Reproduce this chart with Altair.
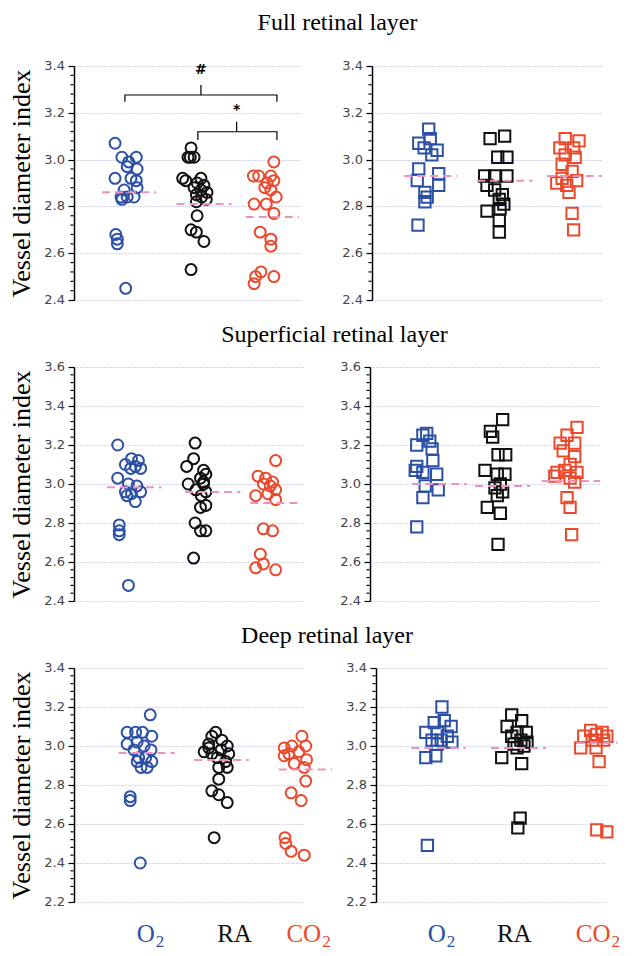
import altair as alt
import pandas as pd

GROUPS = ["O2", "RA", "CO2"]
COLORS = ["#2b50a6", "#111111", "#ea4a2c"]
PINK = "#ec93bd"
GRID = "#a8a8dc"

# ---------------- Full retinal layer ----------------
full_c_o2_y = [3.07, 3.01, 3.01, 2.99, 2.97, 2.96, 2.92, 2.92, 2.91, 2.87, 2.88, 2.84, 2.84, 2.84, 2.83, 2.68, 2.66, 2.64, 2.45]
full_c_o2_x = [0.58, 0.67, 0.86, 0.76, 0.74, 0.87, 0.58, 0.79, 0.86, 0.70, 0.87, 0.66, 0.74, 0.83, 0.67, 0.59, 0.61, 0.61, 0.72]
full_c_ra_y = [3.05, 3.01, 3.01, 3.01, 2.92, 2.92, 2.91, 2.90, 2.89, 2.88, 2.87, 2.86, 2.85, 2.84, 2.82, 2.83, 2.76, 2.70, 2.69, 2.65, 2.53]
full_c_ra_x = [1.58, 1.57, 1.62, 1.54, 1.47, 1.71, 1.51, 1.66, 1.75, 1.62, 1.71, 1.79, 1.65, 1.72, 1.65, 1.78, 1.66, 1.58, 1.65, 1.75, 1.58]
full_c_co2_y = [2.99, 2.93, 2.93, 2.93, 2.90, 2.91, 2.88, 2.87, 2.84, 2.81, 2.81, 2.77, 2.69, 2.66, 2.63, 2.52, 2.50, 2.50, 2.47]
full_c_co2_x = [2.67, 2.40, 2.47, 2.63, 2.58, 2.67, 2.55, 2.63, 2.70, 2.41, 2.57, 2.67, 2.49, 2.63, 2.63, 2.50, 2.43, 2.67, 2.41]
full_c_means = [2.86, 2.81, 2.755]
full_c_from = [0.41, 1.39, 2.30]
full_c_to = [1.12, 2.11, 3.00]

full_s_o2_y = [3.13, 3.07, 3.09, 3.05, 3.04, 3.02, 2.96, 2.94, 2.91, 2.89, 2.86, 2.84, 2.82, 2.72]
full_s_o2_x = [0.74, 0.61, 0.76, 0.68, 0.85, 0.78, 0.61, 0.87, 0.59, 0.87, 0.69, 0.72, 0.69, 0.60]
full_s_ra_y = [3.09, 3.10, 3.01, 3.01, 2.93, 2.93, 2.93, 2.89, 2.87, 2.85, 2.83, 2.81, 2.78, 2.79, 2.74, 2.69]
full_s_ra_x = [1.54, 1.73, 1.64, 1.76, 1.47, 1.60, 1.76, 1.50, 1.60, 1.70, 1.66, 1.72, 1.50, 1.67, 1.66, 1.66]
full_s_co2_y = [3.09, 3.08, 3.05, 3.05, 3.02, 3.01, 2.98, 2.95, 2.92, 2.91, 2.90, 2.89, 2.86, 2.77, 2.70]
full_s_co2_x = [2.52, 2.70, 2.45, 2.63, 2.52, 2.65, 2.48, 2.61, 2.48, 2.67, 2.41, 2.54, 2.57, 2.61, 2.63]
full_s_means = [2.93, 2.91, 2.93]
full_s_from = [0.42, 1.37, 2.28]
full_s_to = [1.11, 2.09, 3.00]

# ---------------- Superficial retinal layer ----------------
sup_c_o2_y = [3.20, 3.10, 3.13, 3.12, 3.09, 3.08, 3.08, 3.03, 3.00, 2.99, 2.96, 2.95, 2.96, 2.94, 2.91, 2.79, 2.76, 2.74, 2.48]
sup_c_o2_x = [0.56, 0.66, 0.74, 0.83, 0.79, 0.86, 0.73, 0.56, 0.70, 0.81, 0.66, 0.74, 0.86, 0.68, 0.79, 0.58, 0.58, 0.58, 0.70]
sup_c_ra_y = [3.21, 3.13, 3.09, 3.07, 3.05, 3.03, 3.00, 3.00, 2.97, 2.96, 2.94, 2.89, 2.88, 2.80, 2.76, 2.76, 2.62, 3.01]
sup_c_ra_x = [1.57, 1.55, 1.46, 1.68, 1.71, 1.64, 1.48, 1.68, 1.58, 1.71, 1.65, 1.71, 1.64, 1.57, 1.64, 1.71, 1.55, 1.68]
sup_c_co2_y = [3.12, 3.04, 3.03, 3.01, 3.00, 2.99, 2.97, 2.95, 2.94, 2.92, 2.77, 2.76, 2.64, 2.59, 2.57, 2.56]
sup_c_co2_x = [2.62, 2.39, 2.49, 2.58, 2.46, 2.55, 2.62, 2.52, 2.36, 2.62, 2.46, 2.58, 2.42, 2.46, 2.36, 2.62]
sup_c_means = [2.983, 2.959, 2.903]
sup_c_from = [0.42, 1.44, 2.29]
sup_c_to = [1.13, 2.16, 2.97]

sup_s_o2_y = [3.26, 3.25, 3.22, 3.20, 3.18, 3.12, 3.09, 3.07, 3.06, 3.05, 2.99, 2.97, 2.93, 2.78]
sup_s_o2_x = [0.74, 0.69, 0.78, 0.61, 0.81, 0.82, 0.61, 0.59, 0.69, 0.87, 0.72, 0.89, 0.69, 0.61]
sup_s_ra_y = [3.33, 3.27, 3.24, 3.15, 3.15, 3.07, 3.05, 3.05, 3.00, 2.98, 2.96, 2.94, 2.88, 2.85, 2.69]
sup_s_ra_x = [1.73, 1.57, 1.60, 1.67, 1.77, 1.50, 1.66, 1.76, 1.70, 1.63, 1.73, 1.66, 1.53, 1.70, 1.67]
sup_s_co2_y = [3.29, 3.25, 3.21, 3.21, 3.17, 3.14, 3.10, 3.06, 3.07, 3.06, 3.04, 3.03, 3.01, 2.93, 2.88, 2.74]
sup_s_co2_x = [2.70, 2.57, 2.48, 2.67, 2.52, 2.67, 2.61, 2.44, 2.54, 2.70, 2.41, 2.61, 2.67, 2.57, 2.61, 2.63]
sup_s_means = [3.00, 2.99, 3.015]
sup_s_from = [0.55, 1.37, 2.24]
sup_s_to = [1.26, 2.09, 3.00]

# ---------------- Deep retinal layer ----------------
deep_c_o2_y = [3.16, 3.07, 3.07, 3.07, 3.05, 3.01, 3.02, 3.00, 2.98, 2.98, 2.94, 2.94, 2.92, 2.92, 2.89, 2.89, 2.74, 2.72, 2.40]
deep_c_o2_x = [0.94, 0.64, 0.75, 0.84, 0.96, 0.64, 0.77, 0.86, 0.73, 0.95, 0.79, 0.88, 0.96, 0.77, 0.90, 0.82, 0.68, 0.68, 0.81]
deep_c_ra_y = [3.07, 3.05, 3.03, 3.01, 3.00, 2.97, 2.96, 2.98, 2.96, 2.99, 2.94, 2.92, 2.89, 2.89, 2.83, 2.77, 2.75, 2.71, 2.53]
deep_c_ra_x = [1.79, 1.74, 1.87, 1.70, 1.94, 1.64, 1.74, 1.86, 1.96, 1.70, 1.81, 1.92, 1.94, 1.83, 1.83, 1.74, 1.83, 1.94, 1.77]
deep_c_co2_y = [3.05, 2.99, 3.00, 3.00, 2.96, 2.97, 2.93, 2.91, 2.95, 2.89, 2.82, 2.76, 2.72, 2.53, 2.50, 2.46, 2.44]
deep_c_co2_x = [2.91, 2.68, 2.78, 2.96, 2.74, 2.87, 2.97, 2.81, 2.68, 2.94, 2.96, 2.77, 2.90, 2.69, 2.70, 2.77, 2.94]
deep_c_means = [2.964, 2.928, 2.88]
deep_c_from = [0.53, 1.51, 2.61]
deep_c_to = [1.26, 2.22, 3.30]

deep_s_o2_y = [3.20, 3.12, 3.13, 3.10, 3.07, 3.07, 3.05, 3.03, 3.03, 3.02, 3.01, 2.95, 2.94, 2.49]
deep_s_o2_x = [0.86, 0.76, 0.89, 0.98, 0.65, 0.80, 0.93, 0.73, 0.85, 0.99, 0.80, 0.78, 0.65, 0.67]
deep_s_ra_y = [3.16, 3.10, 3.13, 3.07, 3.07, 3.05, 3.03, 3.02, 3.01, 3.00, 2.99, 2.94, 2.91, 2.63, 2.58]
deep_s_ra_x = [1.77, 1.71, 1.90, 1.84, 1.96, 1.77, 1.89, 1.97, 1.80, 1.93, 1.84, 1.64, 1.90, 1.88, 1.85]
deep_s_co2_y = [3.08, 3.07, 3.06, 3.05, 3.05, 2.99, 2.99, 3.03, 3.03, 2.92, 2.57, 2.56]
deep_s_co2_x = [2.80, 2.95, 2.88, 2.71, 3.01, 2.67, 2.87, 2.82, 2.97, 2.91, 2.88, 3.01]
deep_s_means = [2.99, 2.99, 3.017]
deep_s_from = [0.46, 1.50, 2.62]
deep_s_to = [1.17, 2.22, 3.15]

# group labels under the bottom panels (x = where main text ends and subscript begins)
label_main = ["O", "RA", "CO"]
label_sub = ["2", "", "2"]
label_x_left = [1.00, 2.26, 3.16]
label_x_right = [0.91, 2.03, 3.06]

# significance brackets (full layer, circles)
br_text = ["#", "*"]
br_left = [0.71, 1.67]
br_right = [2.71, 2.71]
br_mid = [1.71, 2.18]
br_end = [3.247, 3.084]
br_top = [3.276, 3.119]
br_peak = [3.319, 3.162]
br_text_y = [3.383, 3.212]

PANEL_H = 234


def panel(series, means, xfrom, xto, ydom, shape, width, show_title, xstart=0.0,
          labels_x=None, brackets=False):
    rows = []
    for g, xs, ys in series:
        for x, y in zip(xs, ys):
            rows.append({"g": g, "x": x, "y": y})
    df = pd.DataFrame(rows)
    color = alt.Color("g:N", scale=alt.Scale(domain=GROUPS, range=COLORS), legend=None)
    xsc = alt.Scale(domain=[xstart, xstart + 3], nice=False, zero=False)
    ysc = alt.Scale(domain=ydom, nice=False, zero=False)
    n_major = int(round((ydom[1] - ydom[0]) / 0.2))
    majors = [round(ydom[0] + 0.2 * i, 1) for i in range(n_major + 1)]
    minors = [round(m + 0.04 * k, 2) for m in majors[:-1] for k in range(1, 5)]
    ax = dict(
        values=majors, labels=False, minExtent=30,
        tickSize=6, tickColor="black", tickWidth=1.2,
        grid=True, gridColor=GRID, gridDash=[1, 2], gridWidth=1,
        domainColor="black", domainWidth=1.5,
    )
    if show_title:
        ax.update(title="Vessel diameter index", titleFont="Liberation Serif", titleFontSize=26,
                  titleFontWeight="normal", titleColor="black", titlePadding=10)
    else:
        ax.update(title=None)
    yaxis = alt.Axis(**ax)

    def Y(field):
        return alt.Y(field, scale=ysc, axis=yaxis)

    pts = alt.Chart(df).mark_point(shape=shape, filled=False, size=120 if shape == "circle" else 128,
                                   strokeWidth=2, opacity=1).encode(
        x=alt.X("x:Q", scale=xsc, axis=None), y=Y("y:Q"), color=color)
    mdf = pd.DataFrame({"g": GROUPS, "m": means, "x1": xfrom, "x2": xto})
    mlines = alt.Chart(mdf).mark_rule(color=PINK, strokeDash=[8, 5], strokeWidth=2).encode(
        x=alt.X("x1:Q", scale=xsc, axis=None), x2="x2:Q", y=Y("m:Q"))
    minor = alt.Chart(pd.DataFrame({"v": minors})).mark_rule(color="black", strokeWidth=1.2).encode(
        x=alt.value(-3.5), x2=alt.value(-0.5), y=Y("v:Q"))
    ticklab = alt.Chart(pd.DataFrame({"v": majors})).mark_text(
        font="DejaVu Sans", fontSize=13, color="#444444", align="right", baseline="middle").encode(
        x=alt.value(-9), y=Y("v:Q"), text=alt.Text("v:Q", format=".1f"))
    layers = [pts, mlines, minor, ticklab]

    if brackets:
        brows = []
        for i in range(len(br_text)):
            pts_main = [(br_left[i], br_end[i]), (br_left[i], br_top[i]),
                        (br_right[i], br_top[i]), (br_right[i], br_end[i])]
            for k, (bx, by) in enumerate(pts_main):
                brows.append({"seg": f"{i}a", "o": k, "x": bx, "y": by})
            for k, (bx, by) in enumerate([(br_mid[i], br_top[i]), (br_mid[i], br_peak[i])]):
                brows.append({"seg": f"{i}b", "o": k, "x": bx, "y": by})
        bdf = pd.DataFrame(brows)
        blines = alt.Chart(bdf).mark_line(color="black", strokeWidth=1.2).encode(
            x=alt.X("x:Q", scale=xsc, axis=None), y=Y("y:Q"),
            detail="seg:N", order="o:Q")
        tdf = pd.DataFrame({"t": br_text, "x": br_mid, "y": br_text_y})
        btext = alt.Chart(tdf).mark_text(font="DejaVu Sans", fontSize=14, fontWeight="bold",
                                         baseline="middle", color="black").encode(
            x=alt.X("x:Q", scale=xsc, axis=None), y=Y("y:Q"), text="t:N")
        layers += [blines, btext]

    if labels_x is not None:
        ldf = pd.DataFrame({"g": GROUPS, "t": label_main, "s": label_sub, "x": labels_x})
        main = alt.Chart(ldf).mark_text(font="Liberation Serif", fontSize=25, baseline="alphabetic",
                                        align="right").encode(
            x=alt.X("x:Q", scale=xsc, axis=None), y=alt.value(PANEL_H + 40), text="t:N", color=color)
        sub = alt.Chart(ldf).mark_text(font="Liberation Serif", fontSize=17, baseline="alphabetic",
                                       align="left", dx=1).encode(
            x=alt.X("x:Q", scale=xsc, axis=None), y=alt.value(PANEL_H + 45), text="s:N", color=color)
        layers += [main, sub]

    return alt.layer(*layers).properties(width=width, height=PANEL_H)


def row(title, dx, offset, spacing, left, right):
    return alt.hconcat(left, right, spacing=spacing).properties(
        title=alt.TitleParams(text=title, font="Liberation Serif", fontSize=24, fontWeight="normal",
                              color="black", anchor="middle", dx=dx, offset=offset))


r1 = row("Full retinal layer", 32, 25, 40,
         panel([("O2", full_c_o2_x, full_c_o2_y), ("RA", full_c_ra_x, full_c_ra_y),
                ("CO2", full_c_co2_x, full_c_co2_y)],
               full_c_means, full_c_from, full_c_to, [2.4, 3.4], "circle", 228, True,
               xstart=0.04, brackets=True),
         panel([("O2", full_s_o2_x, full_s_o2_y), ("RA", full_s_ra_x, full_s_ra_y),
                ("CO2", full_s_co2_x, full_s_co2_y)],
               full_s_means, full_s_from, full_s_to, [2.4, 3.4], "square", 230, False))
r2 = row("Superficial retinal layer", 30, 14, 36,
         panel([("O2", sup_c_o2_x, sup_c_o2_y), ("RA", sup_c_ra_x, sup_c_ra_y),
                ("CO2", sup_c_co2_x, sup_c_co2_y)],
               sup_c_means, sup_c_from, sup_c_to, [2.4, 3.6], "circle", 230, True, xstart=-0.01),
         panel([("O2", sup_s_o2_x, sup_s_o2_y), ("RA", sup_s_ra_x, sup_s_ra_y),
                ("CO2", sup_s_co2_x, sup_s_co2_y)],
               sup_s_means, sup_s_from, sup_s_to, [2.4, 3.6], "square", 230, False))
r3 = row("Deep retinal layer", 13, 14, 13,
         panel([("O2", deep_c_o2_x, deep_c_o2_y), ("RA", deep_c_ra_x, deep_c_ra_y),
                ("CO2", deep_c_co2_x, deep_c_co2_y)],
               deep_c_means, deep_c_from, deep_c_to, [2.2, 3.4], "circle", 231, True,
               xstart=-0.05, labels_x=label_x_left),
         panel([("O2", deep_s_o2_x, deep_s_o2_y), ("RA", deep_s_ra_x, deep_s_ra_y),
                ("CO2", deep_s_co2_x, deep_s_co2_y)],
               deep_s_means, deep_s_from, deep_s_to, [2.2, 3.4], "square", 230, False,
               labels_x=label_x_right))

chart = alt.vconcat(r1, r2, r3, spacing=16).properties(
    padding={"left": 0, "top": 3, "right": 0, "bottom": 0}
).configure(background="white").configure_view(stroke=None)

chart.save("out.html", embed_options={"renderer": "svg", "actions": False})
